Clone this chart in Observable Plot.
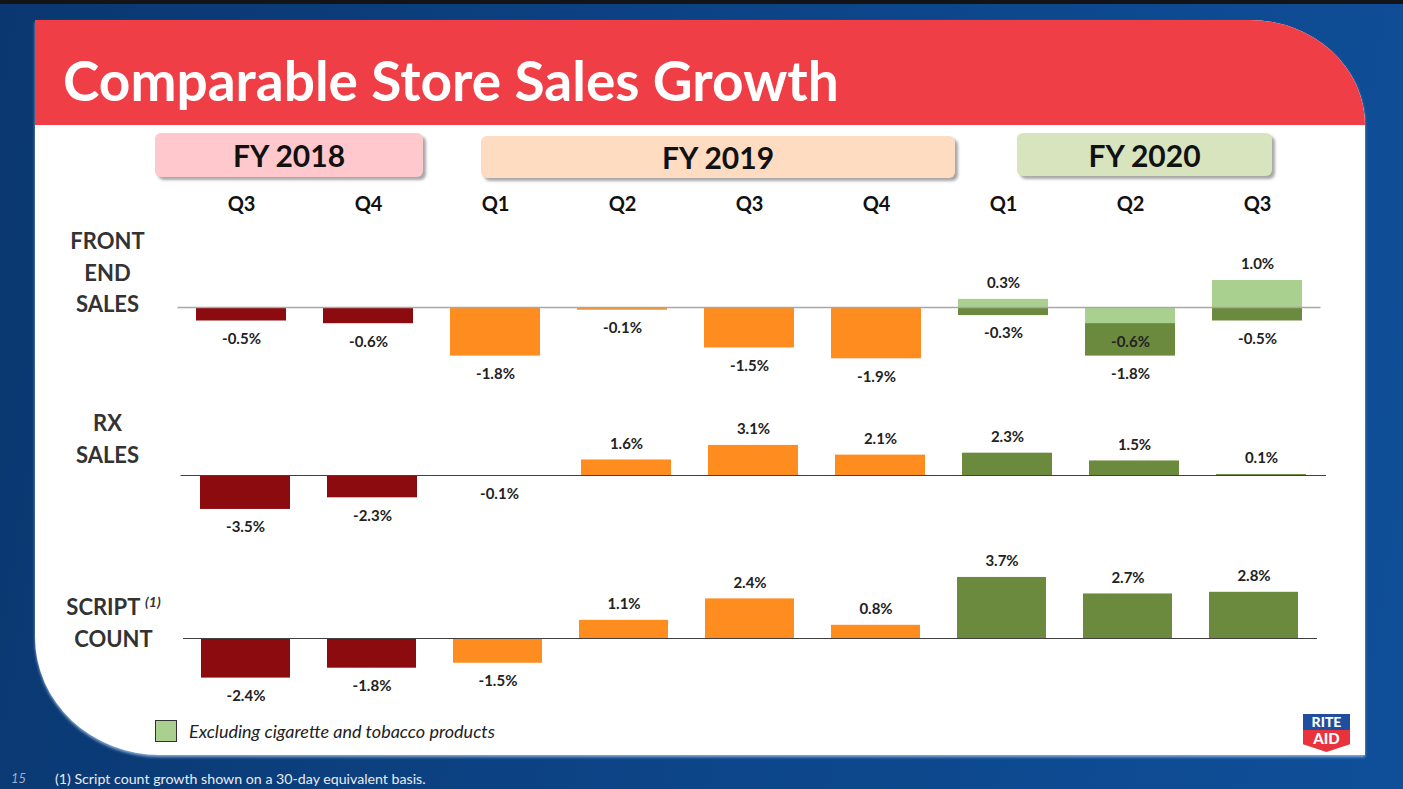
<!DOCTYPE html>
<html><head><meta charset="utf-8">
<script src="https://cdn.jsdelivr.net/npm/d3@7"></script>
<script src="https://cdn.jsdelivr.net/npm/@observablehq/plot@0.6"></script>
<style>
html,body{margin:0;padding:0;}
body{width:1403px;height:789px;position:relative;overflow:hidden;font-family:Lato,"Open Sans",sans-serif;
  background:linear-gradient(100deg,#0a376f 0%,#0c4385 45%,#0f4f99 100%);}
#topbar{position:absolute;left:0;top:0;width:1403px;height:4px;background:#121418;}
#card{position:absolute;left:35px;top:20px;width:1330px;height:735px;background:#fff;
  border-top-right-radius:115px 105px;border-bottom-left-radius:125px 118px;overflow:hidden;
  box-shadow:0 2px 3px rgba(170,200,235,0.8);}
#band{position:absolute;left:0;top:0;width:100%;height:105px;background:#EF3E46;}
#title{position:absolute;left:28px;top:33px;color:#fff;font-weight:bold;font-size:55px;line-height:55px;white-space:nowrap;}
.fy{position:absolute;border-radius:6px;box-shadow:3px 3px 3px rgba(0,0,0,0.35);font-weight:bold;font-size:30px;
  color:#111;display:flex;align-items:center;justify-content:center;}
.rowlab{position:absolute;left:50px;width:115px;text-align:center;font-weight:bold;font-size:22px;line-height:31.5px;color:#333;}
.rowlab sup{font-style:italic;font-size:14px;font-weight:bold;vertical-align:8px;}
.panel{position:absolute;left:0;}
#legsw{position:absolute;left:155px;top:720px;width:20px;height:20px;background:#A9D08E;border:1.5px solid #333;}
#legtx{position:absolute;left:189px;top:720px;font-style:italic;font-size:18px;color:#222;white-space:nowrap;}
#pg{position:absolute;left:11px;top:770px;font-style:italic;font-size:13px;color:#9fb0cc;}
#foot{position:absolute;left:55px;top:770px;font-size:14.2px;color:#e8ecf2;white-space:nowrap;}
#logo{position:absolute;left:1303px;top:714px;width:47px;}
#logo .r{background:#1F4E9E;color:#fff;font-weight:900;font-size:14px;line-height:16px;text-align:center;}
#logo .a{background:#E8323C;color:#fff;font-weight:900;font-size:15px;line-height:17px;text-align:center;height:22px;
  clip-path:polygon(0 0,100% 0,100% 65%,50% 100%,0 65%);}
</style></head>
<body>
<div id="topbar"></div>
<div id="card"><div id="band"><div id="title">Comparable Store Sales Growth</div></div></div>
<div id="fyboxes"></div>
<div class="rowlab" style="top:225px">FRONT<br>END<br>SALES</div>
<div class="rowlab" style="top:407px">RX<br>SALES</div>
<div class="rowlab" style="top:586px;left:56px">SCRIPT <sup>(1)</sup><br>COUNT</div>
<div id="p1" class="panel" style="top:185px"></div>
<div id="p2" class="panel" style="top:395px"></div>
<div id="p3" class="panel" style="top:545px"></div>
<div id="legsw"></div>
<div id="legtx">Excluding cigarette and tobacco products</div>
<div id="pg">15</div>
<div id="foot">(1) Script count growth shown on a 30-day equivalent basis.</div>
<div id="logo"><div class="r">RITE</div><div class="a">AID</div></div>
<script>
// ---- data ----
const fiscalYears = ["FY 2018","FY 2019","FY 2020"];
const barYears = ["FY 2018","FY 2018","FY 2019","FY 2019","FY 2019","FY 2019","FY 2020","FY 2020","FY 2020"];
const quarters = ["Q3","Q4","Q1","Q2","Q3","Q4","Q1","Q2","Q3"];
const frontEnd = [-0.5,-0.6,-1.8,-0.1,-1.5,-1.9,-0.3,-1.8,-0.5];
const frontEndExTobacco = [null,null,null,null,null,null,0.3,-0.6,1.0];
const rxSales = [-3.5,-2.3,-0.1,1.6,3.1,2.1,2.3,1.5,0.1];
const scriptCount = [-2.4,-1.8,-1.5,1.1,2.4,0.8,3.7,2.7,2.8];
const yearColors = ["#8C0B0F","#FF8C1F","#6B8A3D"];
const exTobaccoColor = "#A9D08E";

// ---- FY header boxes ----
const fyBox = [
  {left:155,top:133,w:268,h:44,bg:"#FFC8CC"},
  {left:481,top:136,w:474,h:42,bg:"#FDDCC2"},
  {left:1017,top:133,w:255,h:43,bg:"#D7E4BD"}];
fiscalYears.forEach((fy,i)=>{
  const d=document.createElement("div"); d.className="fy"; d.textContent=fy;
  const b=fyBox[i];
  Object.assign(d.style,{left:b.left+"px",top:b.top+"px",width:b.w+"px",height:b.h+"px",background:b.bg});
  document.getElementById("fyboxes").appendChild(d);
});

const keys = quarters.map((q,i)=>barYears[i]+" "+q);
const rows = vals => vals.map((v,i)=>({key:keys[i], q:quarters[i], fy:barYears[i], v})).filter(d=>d.v!=null);
const fmt = v => v.toFixed(1)+"%";

function panel(el, vals, o){
  const data = rows(vals);
  const marks = [
    Plot.barY(data,{x:"key",y:"v",fill:"fy"})
  ];
  if (o.extra){
    const ex = rows(o.extra);
    marks.push(Plot.barY(ex,{x:"key",y:"v",fill:exTobaccoColor}));
    marks.push(Plot.text(ex.filter(d=>d.v<0),{x:"key",y:"v",text:d=>fmt(d.v),dy:18,fontWeight:"bold",fill:"#222"}));
    marks.push(Plot.text(ex.filter(d=>d.v>=0),{x:"key",y:"v",text:d=>fmt(d.v),dy:-16,fontWeight:"bold",fill:"#222"}));
  }
  marks.push(Plot.text(data.filter(d=>d.v<0),{x:"key",y:"v",text:d=>fmt(d.v),dy:18,fontWeight:"bold",fill:"#222"}));
  marks.push(Plot.text(data.filter(d=>d.v>=0),{x:"key",y:"v",text:d=>fmt(d.v),dy:-16,fontWeight:"bold",fill:"#222"}));
  marks.push(Plot.ruleY([0],{stroke:o.rule,strokeWidth:o.ruleW}));
  if (o.qlabels){
    marks.push(Plot.text(data,{x:"key",text:"q",frameAnchor:"top",lineAnchor:"middle",dy:o.qdy,fontWeight:"bold",fontSize:20,fill:"#111"}));
  }
  const chart = Plot.plot({
    width:1403, height:o.h,
    marginLeft:o.ml, marginRight:o.mr, marginTop:o.mt, marginBottom:o.mb,
    x:{domain:keys, paddingInner:0.29, paddingOuter:0.145, axis:null},
    y:{domain:o.dom, axis:null},
    color:{domain:fiscalYears, range:yearColors},
    style:{fontFamily:"Lato, 'Open Sans', sans-serif", fontSize:"15px", background:"transparent", overflow:"visible"},
    marks
  });
  document.getElementById(el).appendChild(chart);
}

// front end: zero at page y 307, 27 px per %
panel("p1", frontEnd, {h:205, dom:[-2.5,2.0], mt:68, mb:205-68-4.5*27, ml:177.5, mr:1403-1320.5,
  rule:"#a8a8a8", ruleW:1.5, extra:frontEndExTobacco, qlabels:true, qdy:-49});
// rx: zero at page y 475, 9.7 px per %
panel("p2", rxSales, {h:145, dom:[-4.5,4.2], mt:80-4.2*9.7, mb:145-80-4.5*9.7, ml:180.5, mr:77,
  rule:"#404040", ruleW:1.2});
// script: zero at page y 638, 16.5 px per %
panel("p3", scriptCount, {h:170, dom:[-3.0,4.6], mt:93-4.6*16.5, mb:170-93-3.0*16.5, ml:183, mr:1403-1317,
  rule:"#404040", ruleW:1.2});
</script>
</body></html>
